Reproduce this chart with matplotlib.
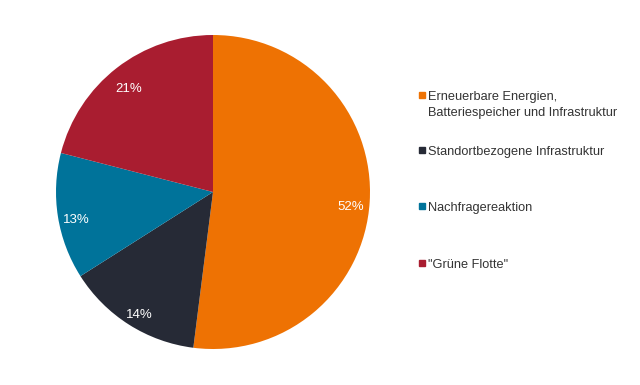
import matplotlib.pyplot as plt
from matplotlib.patches import Rectangle

plt.rcParams["font.family"] = ["Liberation Sans", "DejaVu Sans"]

labels = [
    "Erneuerbare Energien,\nBatteriespeicher und Infrastruktur",
    "Standortbezogene Infrastruktur",
    "Nachfragereaktion",
    '"Grüne Flotte"',
]
shares = [52, 14, 13, 21]
colors = ["#EE7203", "#262A36", "#00739A", "#A91D30"]

fig = plt.figure(figsize=(6.4, 3.85), dpi=100)
ax = fig.add_axes([213 / 640 - 157 / 640, 1 - 192 / 385 - 157 / 385, 314 / 640, 314 / 385])
wedges, texts, autotexts = ax.pie(
    shares,
    colors=colors,
    startangle=90,
    counterclock=False,
    autopct="%d%%",
    pctdistance=0.88,
    wedgeprops={"linewidth": 0},
    textprops={"color": "white", "fontsize": 9.5},
)
for t in autotexts:
    t.set_va("top")
ax.set_aspect("auto")
ax.set_xlim(-1, 1)
ax.set_ylim(-1, 1)

# legend, drawn by hand so the two-line entry lines up like the original
legend_y = [95, 150, 206, 263]
for y, lab, col in zip(legend_y, labels, colors):
    fig.patches.append(Rectangle((419 / 640, 1 - (y + 3) / 385), 6 / 640, 6 / 385,
                                 transform=fig.transFigure, color=col))
    fig.text(428 / 640, 1 - (y - 4) / 385, lab, fontsize=9.2, color="#333333",
             va="top", ha="left", linespacing=1.4)

fig.savefig("out.png", dpi=100)
